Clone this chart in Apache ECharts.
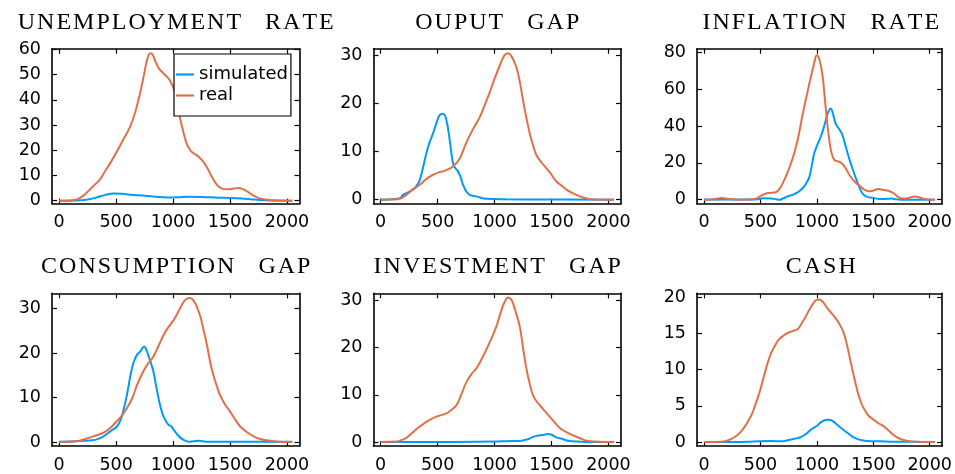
<!DOCTYPE html>
<html>
<head>
<meta charset="utf-8">
<script src="https://cdn.jsdelivr.net/npm/echarts@6/dist/echarts.min.js"></script>
<style>
  html, body { margin: 0; padding: 0; background: #fff; }
  #chart { width: 955px; height: 474px; }
</style>
</head>
<body>
<div id="chart"></div>
<script>
// Panel titles, in drawing order (row by row)
const panelTitles = ['UNEMPLOYMENT RATE', 'OUPUT GAP', 'INFLATION RATE',
                     'CONSUMPTION GAP', 'INVESTMENT GAP', 'CASH'];
const seriesNames = ['simulated', 'real'];

// Shared x ticks
const xTicks = [0, 500, 1000, 1500, 2000];

// Y ticks per panel
const yTicksUnemployment = [0, 10, 20, 30, 40, 50, 60];
const yTicksOutput = [0, 10, 20, 30];
const yTicksInflation = [0, 20, 40, 60, 80];
const yTicksConsumption = [0, 10, 20, 30];
const yTicksInvestment = [0, 10, 20, 30];
const yTicksCash = [0, 5, 10, 15, 20];

// UNEMPLOYMENT RATE
const unemploymentSimulated = [[0,0],[150,0.1],[250,0.5],[330,1.3],[400,2.2],[477,2.8],[550,2.7],[650,2.3],[750,2.0],[850,1.6],[950,1.3],[1050,1.4],[1136,1.6],[1250,1.5],[1400,1.2],[1502,1.1],[1600,0.9],[1680,0.6],[1760,0.25],[1850,0.05],[2047,0]];
const unemploymentReal = [[0,0],[100,0.1],[155,0.5],[214,2],[260,4],[310,6.2],[360,8.5],[400,11.5],[450,15],[507,19.5],[560,24],[624,29.5],[670,35.5],[712,43],[745,50],[770,55.5],[799,58.5],[820,58],[843,55.5],[875,52.5],[917,50.5],[950,49],[975,47.5],[1005,44.5],[1034,39.5],[1060,33],[1092,27],[1120,22.5],[1151,20],[1180,18.8],[1209,18],[1250,16.3],[1297,13.3],[1340,9.5],[1385,6.3],[1430,4.8],[1480,4.5],[1530,4.8],[1575,5.0],[1620,4.4],[1660,3.4],[1707,2],[1760,0.9],[1824,0.4],[1900,0.1],[2047,0]];

// OUPUT GAP
const outputSimulated = [[0,0],[100,0.1],[170,0.3],[196,1.0],[240,1.5],[270,1.9],[299,2.4],[330,3.4],[343,4.1],[370,6.5],[401,9.7],[430,12],[460,13.8],[490,16],[518,17.6],[548,17.9],[577,16.6],[606,12.4],[635,7.6],[655,6.6],[679,5.9],[700,4.8],[723,3.1],[750,1.8],[782,1.0],[840,0.7],[928,0.2],[1100,0.1],[1400,0.05],[2047,0]];
const outputReal = [[0,0],[100,0.05],[167,0.2],[225,1.0],[290,2.3],[343,3.1],[400,4.3],[460,5.2],[510,5.7],[548,5.9],[590,6.3],[635,6.9],[694,8.6],[740,11.2],[782,13.4],[830,15.5],[870,17.2],[910,19.5],[958,22.4],[1000,25.2],[1045,27.9],[1085,30],[1119,30.5],[1150,29.8],[1192,27.6],[1222,24.5],[1250,20.7],[1280,17],[1309,13.8],[1340,11.2],[1367,9.3],[1410,7.8],[1455,6.6],[1500,5.2],[1543,3.8],[1590,2.9],[1631,2.1],[1690,1.3],[1748,0.7],[1800,0.3],[1850,0.1],[2047,0]];

// INFLATION RATE
const inflationSimulated = [[0,0],[200,0.1],[400,0.1],[480,0.3],[520,0.8],[594,0.7],[640,0.3],[668,0],[700,0.7],[741,1.8],[790,2.8],[829,4],[860,5.5],[887,7.2],[910,9.5],[931,12],[955,18.5],[975,25],[1005,30],[1034,34.2],[1060,39],[1078,43],[1100,47.5],[1122,49.5],[1145,46],[1166,41.3],[1195,38.5],[1224,35.5],[1255,29],[1283,23],[1320,16],[1356,10],[1385,5.5],[1414,2.7],[1460,1.3],[1502,0.9],[1540,0.5],[1575,0.4],[1620,0.5],[1663,0.6],[1700,0.3],[1736,0.05],[1850,0],[2047,0]];
const inflationReal = [[0,0],[80,0.3],[155,0.9],[220,0.4],[290,0],[400,0.1],[448,0.4],[480,1.2],[507,2.2],[540,3.2],[580,3.7],[638,4.1],[670,6],[697,9],[735,14],[770,19.8],[800,25.5],[829,32.4],[860,42],[887,50.3],[915,58],[946,66.5],[975,74],[999,78.5],[1020,76.5],[1048,68.3],[1070,55],[1092,41.3],[1115,30],[1136,24],[1160,21.3],[1190,20.8],[1224,19.6],[1260,16.5],[1297,12.6],[1340,9.5],[1385,7.2],[1420,5.5],[1458,4.6],[1500,5],[1546,5.8],[1590,5.3],[1634,4.9],[1680,3.5],[1736,1],[1780,0.6],[1820,1.1],[1868,1.8],[1905,1.3],[1941,0.5],[2000,0.1],[2047,0]];

// CONSUMPTION GAP
const consumptionSimulated = [[0,0.1],[150,0.2],[290,0.4],[331,0.6],[389,1.3],[448,2.4],[507,3.5],[540,5],[565,7.2],[590,10],[609,12.6],[630,15.5],[653,17.9],[680,19.5],[712,20.4],[747,21.5],[765,20.8],[785,19.3],[808,17.6],[829,15.7],[850,12.8],[873,9.8],[895,7.4],[917,5.7],[940,4.6],[960,3.9],[985,3.5],[1004,2.8],[1035,1.8],[1063,1.0],[1100,0.4],[1136,0.1],[1180,0.2],[1224,0.3],[1260,0.2],[1297,0.1],[1500,0.1],[1800,0.05],[2047,0.05]];
const consumptionReal = [[0,0],[155,0.2],[230,0.7],[302,1.3],[389,2.1],[440,3.0],[492,4.3],[545,5.8],[594,7.6],[640,9.8],[682,12.7],[741,16],[785,17.8],[829,19.3],[870,21.5],[917,24.1],[960,25.9],[1004,27.4],[1050,29.5],[1092,31.5],[1125,32.3],[1151,32.4],[1180,31.8],[1209,30.4],[1240,28.2],[1268,25.2],[1300,21.5],[1330,17.5],[1356,14.9],[1385,12.5],[1414,10.5],[1455,8.5],[1502,6.8],[1545,5.1],[1590,3.5],[1650,2.2],[1707,1.3],[1764,0.7],[1824,0.4],[1920,0.1],[2047,0]];

// INVESTMENT GAP
const investmentSimulated = [[0,0],[500,0],[1000,0.1],[1104,0.2],[1236,0.3],[1290,0.6],[1338,1.1],[1385,1.4],[1426,1.5],[1470,1.7],[1505,1.5],[1543,1.0],[1590,0.7],[1631,0.35],[1680,0.2],[1719,0.1],[1800,0.02],[2047,0]];
const investmentReal = [[0,0],[138,0.1],[180,0.4],[225,0.9],[280,2],[343,3.3],[390,4.1],[430,4.7],[489,5.4],[530,5.7],[577,6.1],[620,6.8],[665,7.8],[710,10.2],[753,12.7],[800,14.5],[840,15.6],[885,17.5],[928,19.6],[970,21.8],[1016,24.5],[1055,27.5],[1089,29.7],[1119,30.6],[1145,30.2],[1163,29.3],[1190,27.2],[1221,24.5],[1250,20],[1280,15.5],[1310,12.2],[1338,9.9],[1370,8.6],[1397,7.8],[1440,6.6],[1484,5.4],[1530,4.1],[1572,3.0],[1630,2.1],[1690,1.4],[1750,0.8],[1807,0.3],[1880,0.1],[2047,0]];

// CASH
const cashSimulated = [[0,0],[400,0.05],[594,0.15],[682,0.1],[740,0.25],[800,0.45],[858,0.7],[900,1.1],[946,1.7],[1004,2.3],[1040,2.8],[1078,3.05],[1110,3.1],[1140,2.9],[1180,2.4],[1225,1.8],[1268,1.3],[1310,0.8],[1356,0.45],[1400,0.25],[1444,0.15],[1561,0.1],[1700,0.05],[2047,0]];
const cashReal = [[0,0],[155,0.05],[200,0.2],[243,0.45],[290,0.9],[331,1.5],[375,2.5],[419,3.7],[455,5.2],[492,6.9],[530,9.1],[565,11],[595,12.3],[624,13.2],[660,14.1],[712,14.8],[760,15.2],[800,15.4],[830,15.6],[858,16.2],[900,17.3],[946,18.6],[985,19.5],[1019,19.7],[1050,19.4],[1092,18.5],[1135,17.7],[1180,16.8],[1210,16],[1239,15],[1270,13.2],[1300,11],[1326,9.2],[1360,7],[1390,5.5],[1414,4.7],[1460,3.6],[1502,3.1],[1545,2.6],[1590,2.2],[1635,1.6],[1678,1.0],[1730,0.5],[1795,0.2],[1880,0.05],[2047,0]];

const panelSimulated = [unemploymentSimulated, outputSimulated, inflationSimulated,
                        consumptionSimulated, investmentSimulated, cashSimulated];
const panelReal = [unemploymentReal, outputReal, inflationReal,
                   consumptionReal, investmentReal, cashReal];
const panelYTicks = [yTicksUnemployment, yTicksOutput, yTicksInflation,
                     yTicksConsumption, yTicksInvestment, yTicksCash];

// ---- layout and styling ----
const BLUE = '#009AFA';
const ORANGE = '#E36F47';
const plotLefts = [52, 373.5, 697];
const plotTops = [48.7, 293.3];
const plotW = 247.5, plotH = 155;
const xRange = [-63, 2110];
const yRanges = [[-1.2, 60.3], [-0.83, 31.45], [-2.16, 82.0],
                 [-0.88, 33.46], [-0.83, 31.5], [-0.54, 20.54]];
const tickFont = { fontFamily: 'DejaVu Sans', fontSize: 17.5, color: '#000' };
const plainNumber = v => String(v);

// letter-spaced heading text
const spaced = t => t.split(' ').map(w => w.split('').join('\u200A')).join('\u2003');

const grid = [], xAxis = [], yAxis = [], series = [], graphic = [];
for (let i = 0; i < 6; i++) {
  const col = i % 3, row = Math.floor(i / 3);
  grid.push({ left: plotLefts[col], top: plotTops[row], width: plotW, height: plotH });

  const frame = { show: true, onZero: false, lineStyle: { color: '#000', width: 1.6 } };
  const tick = (vals) => ({ show: true, inside: true, length: 5, customValues: vals,
                            lineStyle: { color: '#000', width: 1.2 } });

  xAxis.push({ type: 'value', gridIndex: i, position: 'bottom', min: xRange[0], max: xRange[1],
    axisLine: frame, axisTick: tick(xTicks), splitLine: { show: false },
    axisLabel: Object.assign({ customValues: xTicks, margin: 10, formatter: plainNumber }, tickFont) });
  xAxis.push({ type: 'value', gridIndex: i, position: 'top', min: xRange[0], max: xRange[1],
    axisLine: frame, axisTick: tick(xTicks), splitLine: { show: false },
    axisLabel: { show: false } });

  const yt = panelYTicks[i];
  yAxis.push({ type: 'value', gridIndex: i, position: 'left', min: yRanges[i][0], max: yRanges[i][1],
    axisLine: frame, axisTick: tick(yt), splitLine: { show: false },
    axisLabel: Object.assign({ customValues: yt, margin: 11, formatter: plainNumber }, tickFont) });
  yAxis.push({ type: 'value', gridIndex: i, position: 'right', min: yRanges[i][0], max: yRanges[i][1],
    axisLine: frame, axisTick: tick(yt), splitLine: { show: false },
    axisLabel: { show: false } });

  [[panelSimulated[i], BLUE, seriesNames[0]], [panelReal[i], ORANGE, seriesNames[1]]].forEach(([d, c, n]) => {
    series.push({ type: 'line', name: n, xAxisIndex: 2 * i, yAxisIndex: 2 * i, data: d,
      showSymbol: false, smooth: 0.4, color: c, lineStyle: { color: c, width: 2 },
      emphasis: { disabled: true } });
  });

  graphic.push({ type: 'text', x: plotLefts[col] + plotW / 2, y: row === 0 ? 23 : 267,
    style: { text: spaced(panelTitles[i]), fontFamily: 'Liberation Serif', fontSize: 24,
             fill: '#000', textAlign: 'center', textVerticalAlign: 'middle' } });
}

const chart = echarts.init(document.getElementById('chart'), null, { renderer: 'canvas' });
chart.setOption({
  animation: false,
  backgroundColor: '#fff',
  grid, xAxis, yAxis, series, graphic,
  legend: {
    data: seriesNames, orient: 'vertical', left: 174, top: 54,
    padding: [10, 3, 10, 2], itemGap: 0, itemWidth: 18, itemHeight: 2.2, icon: 'rect',
    backgroundColor: '#fff', borderColor: '#000', borderWidth: 1.2, borderRadius: 0,
    textStyle: { fontFamily: 'DejaVu Sans', fontSize: 18, color: '#000', lineHeight: 21 },
    selectedMode: false
  }
});
</script>
</body>
</html>
